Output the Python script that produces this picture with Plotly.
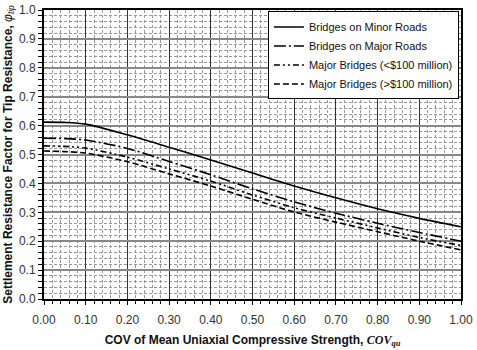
import plotly.graph_objects as go

cov = [0.00, 0.05, 0.10, 0.20, 0.30, 0.40, 0.50, 0.60, 0.70, 0.80, 0.90, 1.00]
minor_roads = [0.612, 0.611, 0.605, 0.568, 0.525, 0.481, 0.436, 0.391, 0.350, 0.312, 0.279, 0.250]
major_roads = [0.556, 0.555, 0.550, 0.521, 0.476, 0.430, 0.381, 0.336, 0.297, 0.262, 0.230, 0.200]
major_lt100 = [0.530, 0.528, 0.522, 0.491, 0.450, 0.408, 0.360, 0.316, 0.280, 0.246, 0.213, 0.185]
major_gt100 = [0.512, 0.510, 0.505, 0.475, 0.433, 0.391, 0.345, 0.301, 0.266, 0.233, 0.200, 0.170]

names = ["Bridges on Minor Roads", "Bridges on Major Roads",
         "Major Bridges (<$100 million)", "Major Bridges (>$100 million)"]
series = [minor_roads, major_roads, major_lt100, major_gt100]
dashes = ["solid", "12px,3px,2px,3px", "6px,3px,2px,3px,2px,3px", "6px,3px"]

FONT = "Liberation Sans Narrow, Arial Narrow, Liberation Sans, Arial"

fig = go.Figure()
for n, s, d in zip(names, series, dashes):
    fig.add_trace(go.Scatter(x=cov, y=s, name=n, mode="lines",
                             line=dict(color="black", dash=d, width=1.6, shape="spline", smoothing=0.8)))

fig.update_layout(
    width=477, height=350,
    margin=dict(l=44, r=16, t=10, b=51, autoexpand=False),
    paper_bgcolor="white", plot_bgcolor="white",
    font=dict(family=FONT, size=12, color="#222"),
    showlegend=True,
    legend=dict(x=0.995, y=0.995, xanchor="right", yanchor="top",
                bgcolor="white", bordercolor="black", borderwidth=1,
                font=dict(family=FONT, size=11, color="#111"),
                itemwidth=30, tracegroupgap=0),
)

fig.update_xaxes(
    range=[0, 1], dtick=0.1, tick0=0, tickformat=".2f",
    showline=True, linecolor="black", linewidth=2, mirror=True,
    ticks="outside", ticklen=4, tickcolor="black", ticklabelstandoff=5,
    showgrid=True, gridcolor="#333", gridwidth=1,
    zeroline=False,
    tickfont=dict(family=FONT, size=12, color="#333"),
    minor=dict(dtick=0.02, showgrid=True, gridcolor="#999", griddash="3px,2px", gridwidth=0.7,
               ticks="outside", ticklen=3, tickcolor="black"),
    title=dict(text="<b>COV of Mean Uniaxial Compressive Strength, </b><span style=\"font-family:Liberation Serif, Times New Roman, serif\"><b><i>COV</i></b><sub><b><i>qu</i></b></sub></span>",
               font=dict(family=FONT, size=12, color="#111"), standoff=9),
)
fig.update_yaxes(
    range=[0, 1], dtick=0.1, tick0=0, tickformat=".1f",
    showline=True, linecolor="black", linewidth=2, mirror=True,
    ticks="outside", ticklen=4, tickcolor="black",
    showgrid=True, gridcolor="#888", gridwidth=1.5,
    zeroline=False,
    tickfont=dict(family=FONT, size=12, color="#333"),
    minor=dict(dtick=0.02, showgrid=True, gridcolor="#999", griddash="3px,2px", gridwidth=0.7,
               ticks="outside", ticklen=4, tickcolor="black"),
    title=dict(text="<b>Settlement Resistance Factor for Tip Resistance, </b><i>φ</i><sub><i>tip</i></sub>",
               font=dict(family=FONT, size=12, color="#111"), standoff=4),
)

fig.write_html("out.html")
